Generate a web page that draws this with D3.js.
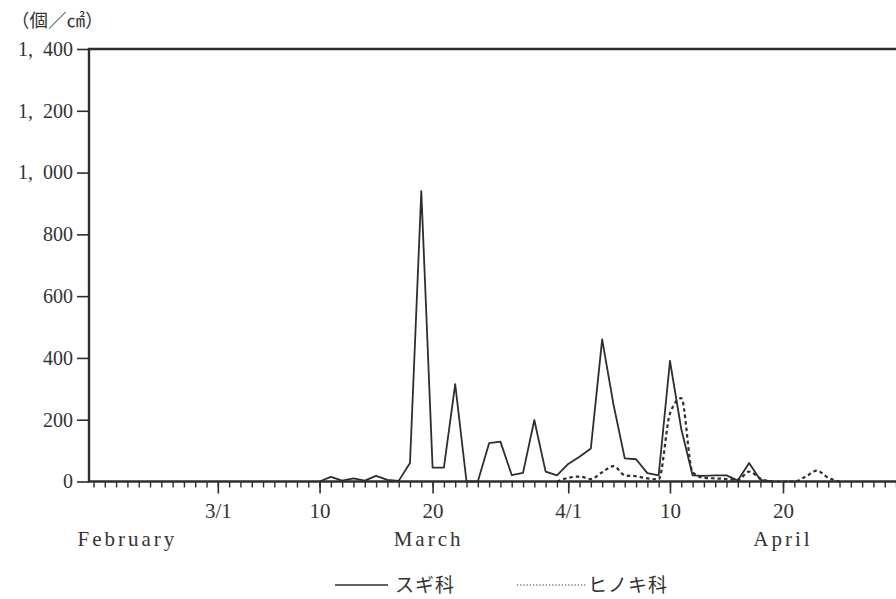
<!DOCTYPE html>
<html>
<head>
<meta charset="utf-8">
<script src="https://cdn.jsdelivr.net/npm/d3@7"></script>
<style>
  body { margin: 0; background: #fff; }
  svg { display: block; }
  .num { font-family: "Liberation Serif", "DejaVu Serif", serif; fill: #333; }
  .jp { font-family: "Noto Sans CJK JP", sans-serif; fill: #333; }
</style>
</head>
<body>
<div id="chart"></div>
<script>
// 日付 (3/10 〜 4/25)
const dates = [
  "3/10","3/11","3/12","3/13","3/14","3/15","3/16","3/17","3/18","3/19",
  "3/20","3/21","3/22","3/23","3/24","3/25","3/26","3/27","3/28","3/29",
  "3/30","3/31",
  "4/1","4/2","4/3","4/4","4/5","4/6","4/7","4/8","4/9","4/10",
  "4/11","4/12","4/13","4/14","4/15","4/16","4/17","4/18","4/19","4/20",
  "4/21","4/22","4/23","4/24","4/25"
];

// スギ科 (個/cm2)
const sugi = [
  0, 15, 3, 10, 3, 18, 5, 2, 60, 940,
  45, 45, 315, 0, 0, 124, 129, 21, 28, 199,
  32, 20,
  57, 80, 107, 460, 250, 75, 72, 27, 20, 390,
  170, 20, 18, 20, 20, 3, 60, 5, 0, null,
  null, null, null, null, null
];

// ヒノキ科 (個/cm2)
const hinoki = [
  null, null, null, null, null, null, null, null, null, null,
  null, null, null, null, null, null, null, null, null, null,
  null, 0,
  12, 16, 8, 30, 50, 20, 17, 10, 7, 220,
  270, 30, 12, 10, 8, 5, 32, 10, 0, 0,
  0, 16, 35, 12, 0
];

const seriesNames = ["スギ科", "ヒノキ科"];
const yTicks = [0, 200, 400, 600, 800, 1000, 1200, 1400];
const xTickDates = ["3/1", "3/10", "3/20", "4/1", "4/10", "4/20"];
const xTickLabels = ["3/1", "10", "20", "4/1", "10", "20"];
const monthDates = ["2/21", "3/20", "4/20"];
const monthLabels = ["February", "March", "April"];
const yUnit = "（個／㎠）";

const width = 896;
const height = 599;
const parse = d3.timeParse("%m/%d");
const ink = "#2e2e2e";

const svg = d3.select("#chart")
    .append("svg")
    .attr("width", width)
    .attr("height", height);

const x = d3.scaleTime()
    .domain([parse("2/18"), parse("4/20")])
    .range([93.5, 783]);

const y = d3.scaleLinear()
    .domain([0, 1400])
    .range([481.5, 49]);

const left = 89;

// 目盛り（毎日）
const days = d3.timeDay.range(parse("2/18"), parse("5/2"));
const minorAxis = svg.append("g")
    .attr("transform", `translate(0,${y(0)})`)
    .call(d3.axisBottom(x).tickValues(days).tickSize(6).tickFormat(""));
minorAxis.select(".domain").remove();
minorAxis.selectAll("line").attr("stroke", ink).attr("stroke-width", 1.4);

const labelMap = new Map(xTickDates.map((d, i) => [+parse(d), xTickLabels[i]]));
const majorAxis = svg.append("g")
    .attr("transform", `translate(0,${y(0)})`)
    .call(d3.axisBottom(x)
        .tickValues(xTickDates.map(parse))
        .tickSize(12)
        .tickPadding(10)
        .tickFormat(d => labelMap.get(+d)));
majorAxis.select(".domain").remove();
majorAxis.selectAll("line").attr("stroke", ink).attr("stroke-width", 1.6);
majorAxis.selectAll("text")
    .attr("class", "num")
    .attr("font-size", 21)
    .attr("fill", "#333");

// 月
svg.selectAll(".month")
    .data(monthLabels)
    .enter()
    .append("text")
    .attr("class", "num month")
    .attr("x", (d, i) => x(parse(monthDates[i])) - (i === 1 ? 4 : 0))
    .attr("y", 546)
    .attr("text-anchor", "middle")
    .attr("font-size", 21)
    .attr("letter-spacing", 3)
    .text(d => d);

// Y軸
const yAxis = svg.append("g")
    .attr("transform", `translate(${left},0)`)
    .call(d3.axisLeft(y)
        .tickValues(yTicks)
        .tickSize(12)
        .tickPadding(4)
        .tickFormat(d => d3.format(",")(d).replace(",", ",\u2002")));
yAxis.select(".domain").remove();
yAxis.selectAll("line").attr("stroke", ink).attr("stroke-width", 1.6);
yAxis.selectAll("text")
    .attr("class", "num")
    .attr("font-size", 20)
    .attr("fill", "#333");

svg.append("text")
    .attr("class", "jp")
    .attr("x", 11)
    .attr("y", 27)
    .attr("font-size", 18.5)
    .text(yUnit);

// 枠
svg.append("path")
    .attr("d", `M${width},${y(1400)}H${left}V${y(0)}H${width}`)
    .attr("fill", "none")
    .attr("stroke", ink)
    .attr("stroke-width", 2.4);

// 折れ線
const pts = vals => dates.map((d, i) => ({date: parse(d), v: vals[i]}));

const line = d3.line()
    .defined(d => d.v != null)
    .x(d => x(d.date))
    .y(d => y(d.v));

svg.append("path")
    .datum(pts(hinoki))
    .attr("fill", "none")
    .attr("stroke", ink)
    .attr("stroke-width", 2.2)
    .attr("stroke-dasharray", "3.5,3")
    .attr("d", line.curve(d3.curveMonotoneX));

svg.append("path")
    .datum(pts(sugi))
    .attr("fill", "none")
    .attr("stroke", ink)
    .attr("stroke-width", 1.8)
    .attr("stroke-linejoin", "round")
    .attr("d", line.curve(d3.curveLinear));

// 凡例
const legend = svg.append("g");
const legendX = [335, 517];
const legendDash = [null, "1.2,2"];
seriesNames.forEach((name, i) => {
    legend.append("line")
        .attr("x1", legendX[i])
        .attr("x2", legendX[i] + (i === 0 ? 53 : 70))
        .attr("y1", 585)
        .attr("y2", 585)
        .attr("stroke", ink)
        .attr("stroke-width", i === 0 ? 1.6 : 1.2)
        .attr("stroke-dasharray", legendDash[i]);
    legend.append("text")
        .attr("class", "jp")
        .attr("x", legendX[i] + (i === 0 ? 60 : 71))
        .attr("y", 592)
        .attr("font-size", 19)
        .attr("letter-spacing", 1)
        .text(name);
});
</script>
</body>
</html>
